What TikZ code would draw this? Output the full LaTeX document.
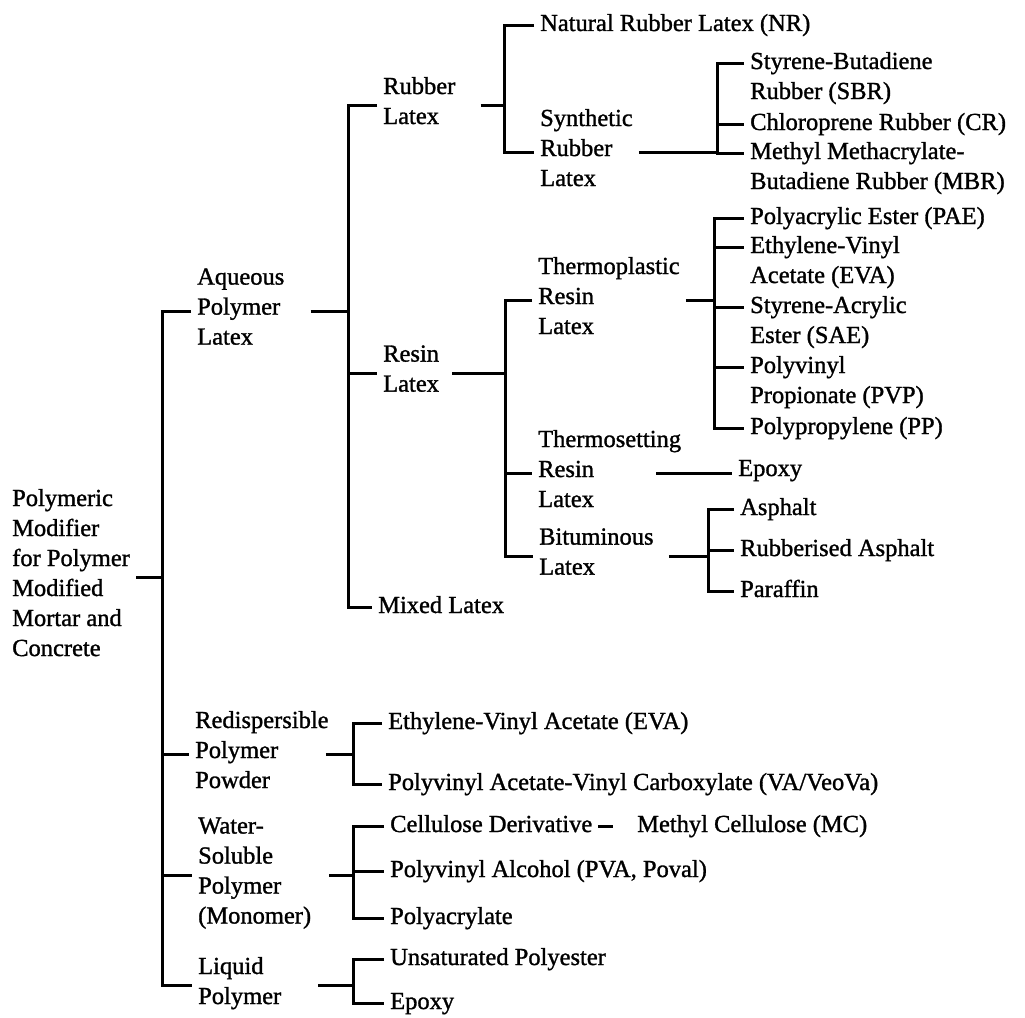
\documentclass[tikz,border=0pt]{standalone}
\usepackage{fontspec}
\setmainfont{Liberation Serif}[FakeBold=1.2]
\usepackage{tikz}

\tikzset{
  lbl/.style={anchor=west, align=left, inner xsep=6pt, inner ysep=0pt,
    font=\fontsize{24.5}{30}\selectfont,
    execute at begin node=\strut, execute at end node=\strut},
  conn/.style={line width=3pt}
}

\begin{document}
\begin{tikzpicture}[x=1pt,y=-1pt]
        \useasboundingbox (0,0) rectangle (1025,1017);
        \fill[white] (0,0) rectangle (1025,1017);
        % level 0 and 1
        \node[lbl] (root) at (6,577) {Polymeric\\Modifier\\for Polymer\\Modified\\Mortar and\\Concrete};
        \node[lbl] (aqueous) at (191,311) {Aqueous\\Polymer\\Latex};
        \node[lbl] (redisp) at (189,754) {Redispersible\\Polymer\\Powder};
        \node[lbl] (water) at (192,875) {Water-\\Soluble\\Polymer\\(Monomer)};
        \node[lbl] (liquid) at (192,985) {Liquid\\Polymer};
        % level 2
        \node[lbl] (rubber) at (377,105) {Rubber\\Latex};
        \node[lbl] (resin) at (377,373) {Resin\\Latex};
        \node[lbl] (mixed) at (372,607) {Mixed Latex};
        % level 3
        \node[lbl] (nr) at (534,25) {Natural Rubber Latex (NR)};
        \node[lbl] (synthetic) at (534,152) {Synthetic\\Rubber\\Latex};
        \node[lbl] (thermoplastic) at (532,300) {Thermoplastic\\Resin\\Latex};
        \node[lbl] (thermosetting) at (532,473) {Thermosetting\\Resin\\Latex};
        \node[lbl] (bituminous) at (533,556) {Bituminous\\Latex};
        % level 4
        \node[lbl] (sbr) at (744,80) {Styrene-Butadiene\\Rubber (SBR)};
        \node[lbl] (cr) at (744,124) {Chloroprene Rubber (CR)};
        \node[lbl] (mbr) at (744,170) {Methyl Methacrylate-\\Butadiene Rubber (MBR)};
        \node[lbl] (pae) at (744,218) {Polyacrylic Ester (PAE)};
        \node[lbl] (eva) at (744,264) {Ethylene-Vinyl\\Acetate (EVA)};
        \node[lbl] (sae) at (744,324) {Styrene-Acrylic\\Ester (SAE)};
        \node[lbl] (pvp) at (744,384) {Polyvinyl\\Propionate (PVP)};
        \node[lbl] (pp) at (744,428) {Polypropylene (PP)};
        \node[lbl] (epoxyA) at (732,470) {Epoxy};
        \node[lbl] (asphalt) at (734,509) {Asphalt};
        \node[lbl] (rubberised) at (734,550) {Rubberised Asphalt};
        \node[lbl] (paraffin) at (734,591) {Paraffin};
        % lower groups
        \node[lbl] (evaB) at (382,723) {Ethylene-Vinyl Acetate (EVA)};
        \node[lbl] (veova) at (382,784) {Polyvinyl Acetate-Vinyl Carboxylate (VA/VeoVa)};
        \node[lbl] (cellulose) at (384,826) {Cellulose Derivative};
        \node[lbl] (mc) at (631,826) {Methyl Cellulose (MC)};
        \node[lbl] (pva) at (384,871) {Polyvinyl Alcohol (PVA, Poval)};
        \node[lbl] (polyacrylate) at (384,918) {Polyacrylate};
        \node[lbl] (upe) at (384,959) {Unsaturated Polyester};
        \node[lbl] (epoxyB) at (384,1003) {Epoxy};
        % bracket spines, edit here for the x of each bracket
        \coordinate (rootsp) at (162,577);
        \coordinate (aqsp) at (348,311);
        \coordinate (rubsp) at (504,105);
        \coordinate (synsp) at (717,152);
        \coordinate (ressp) at (505,373);
        \coordinate (tpsp) at (714,300);
        \coordinate (bitsp) at (708,556);
        \coordinate (rdsp) at (353,754);
        \coordinate (wsp) at (353,875);
        \coordinate (lqsp) at (353,985);
        % root
        \draw[conn] (root.east) -- (root.east -| rootsp);
        \draw[conn] (aqueous.west) -| (rootsp) |- (liquid.west);
        \foreach \n in {redisp,water}
        \draw[conn] (rootsp) |- (\n.west);
        % aqueous polymer latex
        \draw[conn] ([xshift=20pt]aqueous.east) -- (aqueous.east -| aqsp);
        \draw[conn] (rubber.west) -| (aqsp) |- (mixed.west);
        \draw[conn] (aqsp) |- (resin.west);
        % rubber latex
        \draw[conn] ([xshift=19pt]rubber.east) -- (rubber.east -| rubsp);
        \draw[conn] (nr.west) -| (rubsp) |- (synthetic.west);
        \draw[conn] (synthetic.east) -- (synthetic.east -| synsp);
        \draw[conn] ([yshift=17pt]sbr.west) -| (synsp) |- ([yshift=17pt]mbr.west);
        \draw[conn] (synsp) |- (cr.west);
        % resin latex
        \draw[conn] ([xshift=7pt]resin.east) -- (resin.east -| ressp);
        \draw[conn] (thermoplastic.west) -| (ressp) |- (bituminous.west);
        \draw[conn] (ressp) |- (thermosetting.west);
        \draw[conn] (thermoplastic.east) -- (thermoplastic.east -| tpsp);
        \draw[conn] (pae.west) -| (tpsp) |- (pp.west);
        \foreach \n in {eva,sae,pvp}
        \draw[conn] (tpsp) |- ([yshift=17pt]\n.west);
        \draw[conn] ([xshift=-31pt]thermosetting.east) -- (thermosetting.east -| epoxyA.west);
        \draw[conn] ([xshift=9pt]bituminous.east) -- (bituminous.east -| bitsp);
        \draw[conn] (asphalt.west) -| (bitsp) |- (paraffin.west);
        \draw[conn] (bitsp) |- (rubberised.west);
        % powder, water-soluble, liquid
        \draw[conn] ([xshift=-9pt]redisp.east) -- (redisp.east -| rdsp);
        \draw[conn] (evaB.west) -| (rdsp) |- (veova.west);
        \draw[conn] ([xshift=12pt]water.east) -- (water.east -| wsp);
        \draw[conn] (cellulose.west) -| (wsp) |- (polyacrylate.west);
        \draw[conn] (wsp) |- (pva.west);
        \draw[conn] (cellulose.east) -- ([xshift=-18pt]mc.west);
        \draw[conn] ([xshift=31pt]liquid.east) -- (liquid.east -| lqsp);
        \draw[conn] (upe.west) -| (lqsp) |- (epoxyB.west);
\end{tikzpicture}
\end{document}
